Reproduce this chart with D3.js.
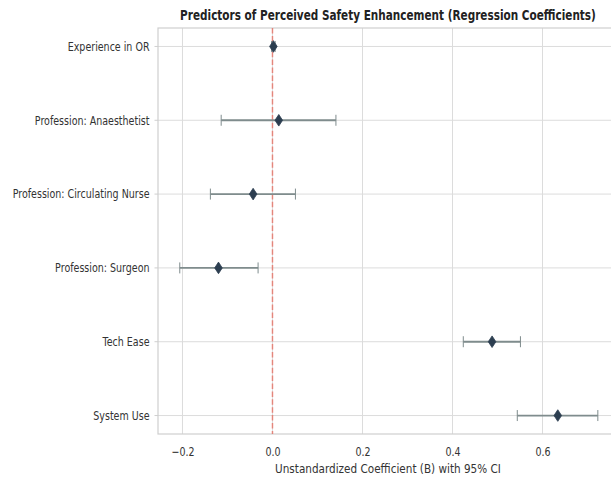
<!DOCTYPE html>
<html><head><meta charset="utf-8">
<script src="https://cdn.jsdelivr.net/npm/d3@7"></script>
<style>body{margin:0;background:#fff}svg{display:block}text{font-family:"DejaVu Sans",sans-serif}</style>
</head><body><div id="chart"></div>
<script>
const predictors = ["Experience in OR","Profession: Anaesthetist","Profession: Circulating Nurse","Profession: Surgeon","Tech Ease","System Use"];
const coef  = [0.002, 0.014, -0.043, -0.120, 0.488, 0.634];
const ciLow = [-0.002, -0.114, -0.138, -0.206, 0.424, 0.544];
const ciHigh= [0.006, 0.141, 0.051, -0.032, 0.551, 0.723];
const xTicks = [-0.2, 0, 0.2, 0.4, 0.6];
const title = "Predictors of Perceived Safety Enhancement (Regression Coefficients)";
const xLabel = "Unstandardized Coefficient (B) with 95% CI";

const W = 611, H = 478;
const m = {l:158, r:618, t:28, b:434};
const svg = d3.select("#chart").append("svg").attr("width",W).attr("height",H);
const x = d3.scaleLinear().domain([-0.2544, 0.7678]).range([m.l, m.r]);
const yi = d3.scaleLinear().domain([-0.25, 5.25]).range([m.t, m.b]);
const y = i => yi(i);

const g = svg.append("g");
// grid
g.selectAll(".vg").data(xTicks).join("line")
  .attr("x1",d=>x(d)).attr("x2",d=>x(d)).attr("y1",m.t).attr("y2",m.b)
  .attr("stroke","#dcdcdc").attr("stroke-width",1);
g.selectAll(".hg").data(predictors).join("line")
  .attr("x1",m.l).attr("x2",m.r).attr("y1",(d,i)=>y(i)).attr("y2",(d,i)=>y(i))
  .attr("stroke","#dcdcdc").attr("stroke-width",1);
// spines
g.append("rect").attr("x",m.l).attr("y",m.t).attr("width",m.r-m.l).attr("height",m.b-m.t)
  .attr("fill","none").attr("stroke","#cfcfcf").attr("stroke-width",1.2);

// zero line
g.append("line").attr("x1",x(0)).attr("x2",x(0)).attr("y1",m.t).attr("y2",m.b)
  .attr("stroke","#e74c3c").attr("stroke-opacity",0.6).attr("stroke-width",1.5)
  .attr("stroke-dasharray","5.5,2.4");

// error bars
const eb = g.selectAll(".eb").data(predictors).join("g");
eb.append("line").attr("x1",(d,i)=>x(ciLow[i])).attr("x2",(d,i)=>x(ciHigh[i]))
  .attr("y1",(d,i)=>y(i)).attr("y2",(d,i)=>y(i)).attr("stroke","#7f8c8d").attr("stroke-width",1.8);
eb.append("line").attr("x1",(d,i)=>x(ciLow[i])).attr("x2",(d,i)=>x(ciLow[i]))
  .attr("y1",(d,i)=>y(i)-5.5).attr("y2",(d,i)=>y(i)+5.5).attr("stroke","#7f8c8d").attr("stroke-width",1);
eb.append("line").attr("x1",(d,i)=>x(ciHigh[i])).attr("x2",(d,i)=>x(ciHigh[i]))
  .attr("y1",(d,i)=>y(i)-5.5).attr("y2",(d,i)=>y(i)+5.5).attr("stroke","#7f8c8d").attr("stroke-width",1);
// markers
g.selectAll(".mk").data(predictors).join("path")
  .attr("d","M0,-5.8L3.8,0L0,5.8L-3.8,0Z")
  .attr("transform",(d,i)=>`translate(${x(coef[i])},${y(i)})`)
  .attr("fill","#2c3e50").attr("stroke","#2c3e50").attr("stroke-width",0.8);

// measure to get horizontal squeeze
function natWidth(txt, size, weight){
  const t = svg.append("text").attr("font-size",size).attr("font-weight",weight||"normal").text(txt);
  const w = t.node().getComputedTextLength(); t.remove(); return w;
}
const SX = 137 / natWidth(predictors[2], 12.5);
const SXL = 226 / natWidth(xLabel, 12.5);
const SXT = 416 / natWidth(title, 13.5, "bold");

// y labels
g.selectAll(".yl").data(predictors).join("text")
  .attr("transform",(d,i)=>`translate(149.5,${y(i)+4.3}) scale(${SX},1)`)
  .attr("text-anchor","end").attr("font-size",12.5).attr("fill","#333").text(d=>d);
g.selectAll(".yt").data(predictors).join("line")
  .attr("x1",154.5).attr("x2",m.l).attr("y1",(d,i)=>y(i)).attr("y2",(d,i)=>y(i))
  .attr("stroke","#cfcfcf");
// x ticks via axis
const ax = g.append("g").attr("transform",`translate(0,${m.b})`)
  .call(d3.axisBottom(x).tickValues(xTicks).tickSize(0).tickPadding(0).tickFormat(d=>d3.format(".1f")(d).replace("-","\u2212")));
ax.select(".domain").remove();
ax.selectAll("text").attr("y",0).attr("dy",0)
  .attr("transform",`translate(0,22) scale(${SX},1)`)
  .attr("font-size",12.5).attr("fill","#333").attr("font-family","DejaVu Sans");
// x label
g.append("text").attr("transform",`translate(${(m.l+m.r)/2},473) scale(${SXL},1)`)
  .attr("text-anchor","middle").attr("font-size",12.5).attr("fill","#333").text(xLabel);
// title
g.append("text").attr("transform",`translate(388,20) scale(${SXT},1)`)
  .attr("text-anchor","middle").attr("font-size",13.5).attr("font-weight","bold").attr("fill","#222").text(title);
</script></body></html>
